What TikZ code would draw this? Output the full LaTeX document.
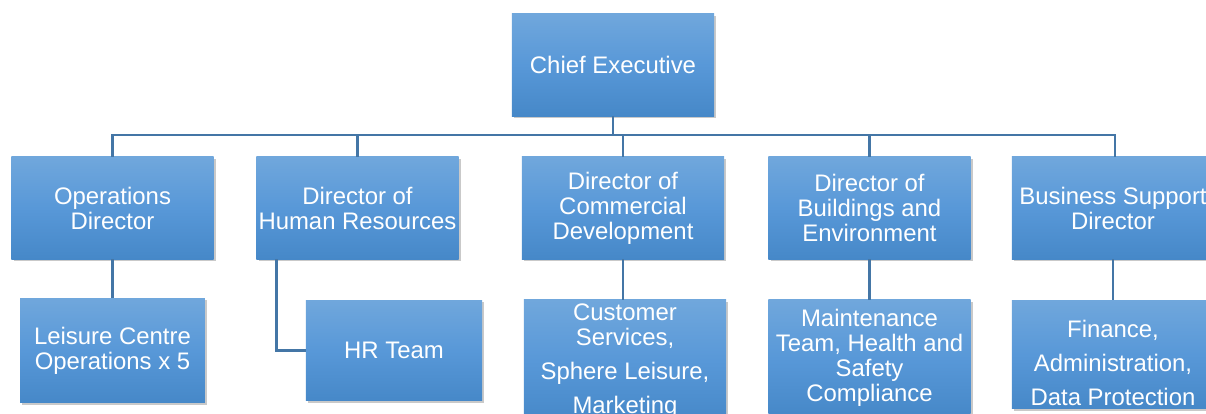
\documentclass[tikz,border=0pt]{standalone}
\usepackage{fontspec}
\newfontfamily\chartfont{Liberation Sans}
\usetikzlibrary{shadows, positioning}

\definecolor{boxtop}{RGB}{112,167,220}
\definecolor{boxmid}{RGB}{88,152,216}
\definecolor{boxbot}{RGB}{70,136,200}
\definecolor{linkcol}{RGB}{68,118,166}

\begin{document}
\begin{tikzpicture}[x=0.025cm, y=-0.025cm,
                    box/.style={rectangle, inner sep=0pt, outer sep=0pt,
                                minimum width=5.05cm, minimum height=2.55cm,
                                top color=boxtop, bottom color=boxbot, middle color=boxmid,
                                drop shadow={shadow xshift=1.5pt, shadow yshift=-1.5pt,
                                             opacity=0.3, fill=black!70},
                                text=white, align=center,
                                font=\chartfont\fontsize{17}{17.8}\selectfont},
                    link/.style={draw=linkcol, line width=1.8pt}]

\useasboundingbox (0,0) rectangle (1206,414);
\clip (0,0) rectangle (1206,414);

\node[box] (chief) at (613,65) {Chief Executive};

\node[box] (ops)   at (112.5,208)  {Operations\\Director};
\node[box] (hr)    at (357.5,208)  {Director of\\Human Resources};
\node[box] (comm)  at (623,208)    {Director of\\Commercial\\Development};
\node[box] (build) at (869.5,208)  {Director of\\Buildings and\\Environment};
\node[box] (biz)   at (1113,208)   {Business Support\\Director};

\node[box, minimum width=4.62cm, minimum height=2.62cm] (leisure) at (112.5,350.5)
      {Leisure Centre\\Operations x 5};
\node[box, minimum width=4.4cm, minimum height=2.52cm] (hrteam) at (394,350.5) {HR Team};
\node[box, minimum height=3.05cm] (cust) at (625,361)
      {Customer\\Services,\\[6.5pt]Sphere Leisure,\\[6.5pt]Marketing};
\node[box, minimum height=2.9cm] (maint) at (869.5,358)
      {Maintenance\\Team, Health and\\Safety\\Compliance};
\node[box, minimum height=2.72cm] (fin) at (1113,354.5)
      {\rule{0pt}{24pt}Finance,\\[6.5pt]Administration,\\[6.5pt]Data Protection};

% top level bus
\coordinate (bus) at (613,135);
\draw[link] (chief.south) -- (chief.south |- bus);
\draw[link] (ops.north) |- ([xshift=0.05cm]biz.north |- bus) -- ([xshift=0.05cm]biz.north);
\foreach \n in {hr,comm,build}
  \draw[link] (\n.north) -- (\n.north |- bus);

% directors to teams
\draw[link] (ops.south) -- (leisure.north);
\draw[link] ([xshift=0.5cm]hr.south west) |- (hrteam.west);
\draw[link] (comm.south) -- (comm.south |- cust.north);
\draw[link] (build.south) -- (build.south |- maint.north);
\draw[link] (biz.south) -- (fin.north);

\end{tikzpicture}
\end{document}
